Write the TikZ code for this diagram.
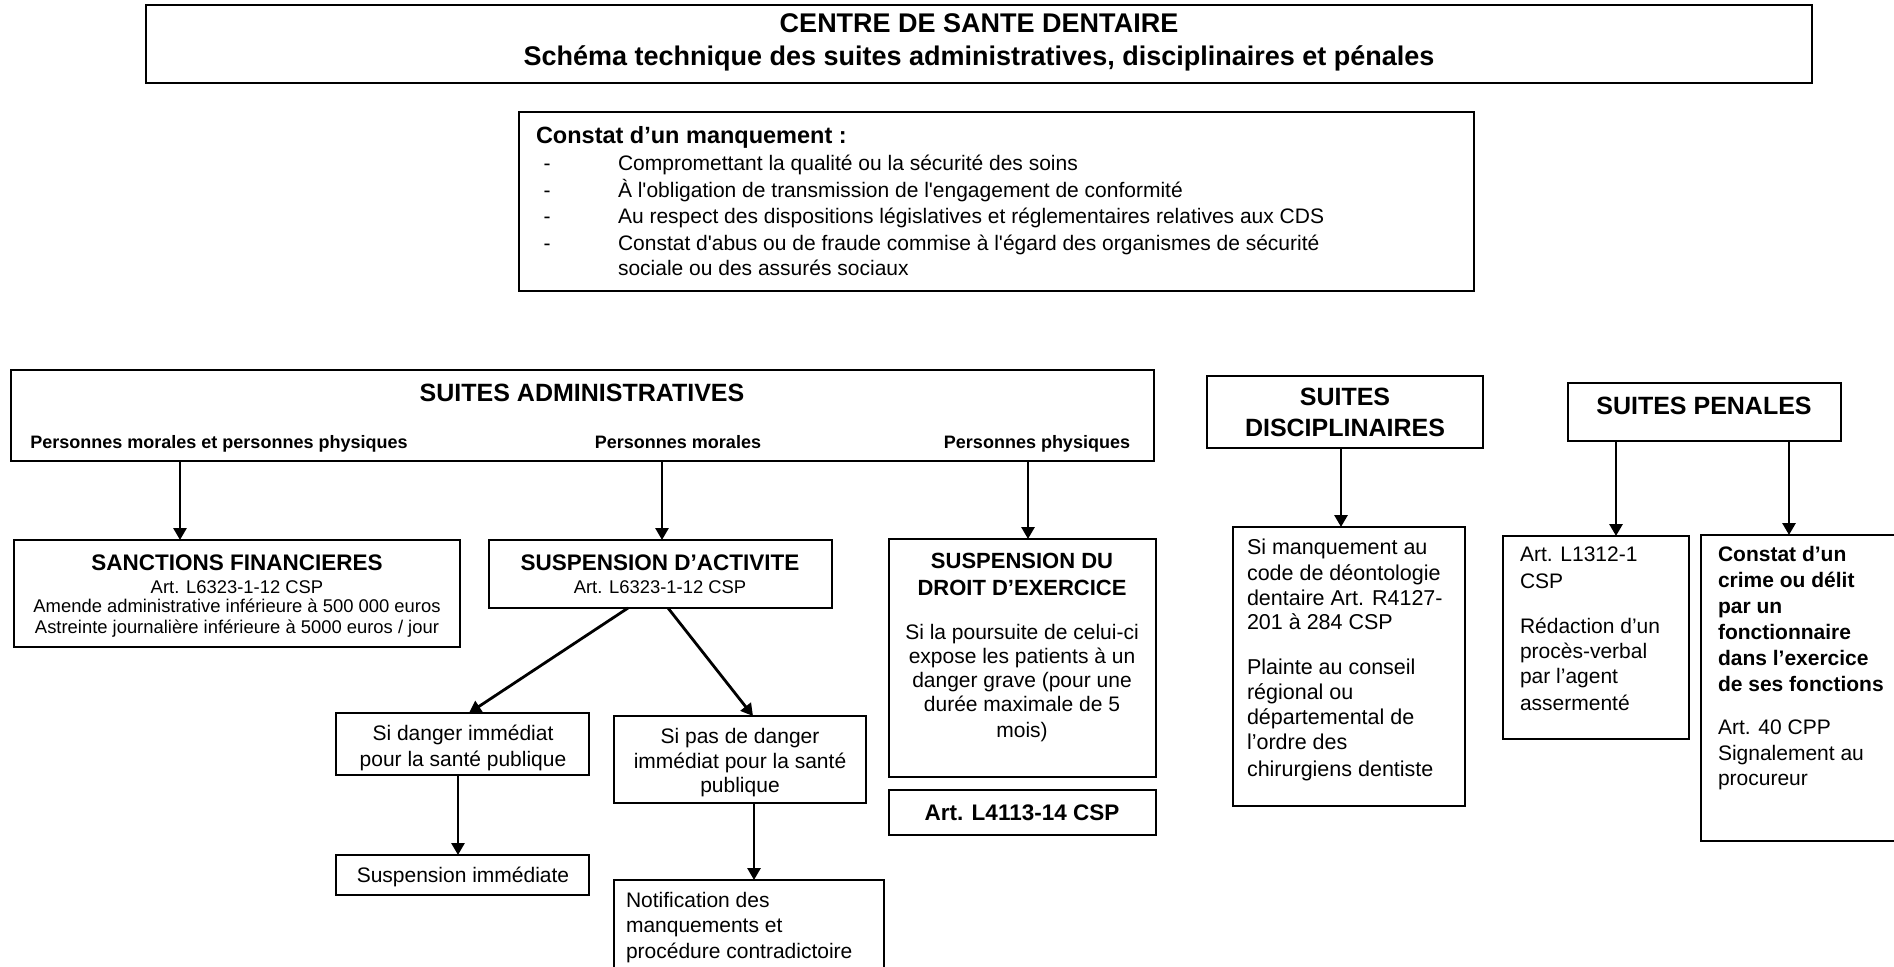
\documentclass[tikz,border=0pt]{standalone}
\usepackage{fontspec}
\setmainfont{Liberation Sans}[Ligatures=TeXOff]
\usetikzlibrary{arrows.meta}
\newcounter{tl}
\newcommand\fz[1]{\fontsize{#1}{#1}\selectfont}
\newcommand\tC[4]{\stepcounter{tl}\node[txt,anchor=base,font={#3}] (tl\arabic{tl}) at (#1,#2) {#4};}
\newcommand\tW[4]{\stepcounter{tl}\node[txt,anchor=base west,font={#3}] (tl\arabic{tl}) at (#1,#2) {#4};}
\newcommand\bx[5]{\node[box,anchor=north west,minimum width={(#4-#2)*1pt},minimum height={(#5-#3)*1pt}] (#1) at (#2,#3) {};}
\tikzset{
  txt/.style={inner sep=0pt,outer sep=0pt,text=black},
  box/.style={draw=black,line width=1.5pt,inner sep=0pt,outer sep=0pt,fill=none},
  arr/.style={line width=2.8pt,-{Triangle[length=12pt,width=13pt]}},
}
\begin{document}
\begin{tikzpicture}[x=1pt,y=-1pt]
\useasboundingbox (0,0) rectangle (1894,966);
\clip (0,0) rectangle (1894,966);
\fill[white] (0,0) rectangle (1894,966);
% boxes
\bx{title}{146}{5}{1812}{83}
\bx{constat}{519}{112}{1474}{291}
\bx{admin}{11}{370}{1154}{461}
\bx{sanc}{14}{540}{460}{647}
\bx{act}{489}{540}{832}{608}
\bx{danger}{336}{713}{589}{775}
\bx{pas}{614}{716}{866}{803}
\bx{imm}{336}{855}{589}{895}
\bx{notif}{614}{880}{884}{990}
\bx{droit}{889}{539}{1156}{777}
\bx{art}{889}{790}{1156}{835}
\bx{disc}{1207}{376}{1483}{448}
\bx{discb}{1233}{527}{1465}{806}
\bx{pen}{1568}{383}{1841}{441}
\bx{lcsp}{1503}{536}{1689}{739}
\bx{crime}{1701}{535}{1910}{841}
% arrow x positions
\coordinate (xa) at (180,0);
\coordinate (xb) at (662,0);
\coordinate (xc) at (1028,0);
\coordinate (xd1) at (628,0);
\coordinate (xd2) at (469,0);
\coordinate (xe1) at (668,0);
\coordinate (xe2) at (753,0);
\coordinate (xf) at (458,0);
\coordinate (xg) at (754,0);
\coordinate (xh) at (1341,0);
\coordinate (xi) at (1616,0);
\coordinate (xj) at (1789,0);
\draw[arr] (admin.south -| xa) -- (sanc.north -| xa);
\draw[arr] (admin.south -| xb) -- (act.north -| xb);
\draw[arr] (admin.south -| xc) -- (droit.north -| xc);
\draw[arr] (act.south -| xd1) -- (danger.north -| xd2);
\draw[arr] (act.south -| xe1) -- (pas.north -| xe2);
\draw[arr] (danger.south -| xf) -- (imm.north -| xf);
\draw[arr] (pas.south -| xg) -- (notif.north -| xg);
\draw[arr] (disc.south -| xh) -- (discb.north -| xh);
\draw[arr] (pen.south -| xi) -- (lcsp.north -| xi);
\draw[arr] (pen.south -| xj) -- (crime.north -| xj);
% title
\tC{979}{33}{\fz{27}\bfseries}{CENTRE DE SANTE DENTAIRE}
\tC{979}{66}{\fz{27}\bfseries}{Schéma technique des suites administratives, disciplinaires et pénales}
% constat
\tW{536}{143}{\fz{23.5}\bfseries}{Constat d’un manquement :}
\tC{547}{170}{\fz{21}}{-}
\tC{547}{197}{\fz{21}}{-}
\tC{547}{223}{\fz{21}}{-}
\tC{547}{250}{\fz{21}}{-}
\tW{618}{170}{\fz{21}}{Compromettant la qualité ou la sécurité des soins}
\tW{618}{197}{\fz{21}}{À l'obligation de transmission de l'engagement de conformité}
\tW{618}{223}{\fz{21}}{Au respect des dispositions législatives et réglementaires relatives aux CDS}
\tW{618}{250}{\fz{21}}{Constat d'abus ou de fraude commise à l'égard des organismes de sécurité}
\tW{618}{275}{\fz{21}}{sociale ou des assurés sociaux}
% admin
\tC{582}{401}{\fz{25}\bfseries}{SUITES ADMINISTRATIVES}
\tC{219}{448}{\fz{18}\bfseries}{Personnes morales et personnes physiques}
\tC{678}{448}{\fz{18}\bfseries}{Personnes morales}
\tC{1037}{448}{\fz{18}\bfseries}{Personnes physiques}
% sanctions
\tC{237}{570}{\fz{22.5}\bfseries}{SANCTIONS FINANCIERES}
\tC{237}{593}{\fz{18.4}}{Art. L6323-1-12 CSP}
\tC{237}{612}{\fz{18.4}}{Amende administrative inférieure à 500 000 euros}
\tC{237}{633}{\fz{18.4}}{Astreinte journalière inférieure à 5000 euros / jour}
% activite
\tC{660}{570}{\fz{22.5}\bfseries}{SUSPENSION D’ACTIVITE}
\tC{660}{593}{\fz{18.4}}{Art. L6323-1-12 CSP}
\tC{463}{740}{\fz{21}}{Si danger immédiat}
\tC{463}{766}{\fz{21}}{pour la santé publique}
\tC{740}{743}{\fz{21}}{Si pas de danger}
\tC{740}{768}{\fz{21}}{immédiat pour la santé}
\tC{740}{792}{\fz{21}}{publique}
\tC{463}{882}{\fz{21}}{Suspension immédiate}
\tW{626}{907}{\fz{21}}{Notification des}
\tW{626}{932}{\fz{21}}{manquements et}
\tW{626}{958}{\fz{21}}{procédure contradictoire}
% droit
\tC{1022}{568}{\fz{22}\bfseries}{SUSPENSION DU}
\tC{1022}{595}{\fz{22}\bfseries}{DROIT D’EXERCICE}
\tC{1022}{639}{\fz{21}}{Si la poursuite de celui-ci}
\tC{1022}{663}{\fz{21}}{expose les patients à un}
\tC{1022}{687}{\fz{21}}{danger grave (pour une}
\tC{1022}{711}{\fz{21}}{durée maximale de 5}
\tC{1022}{737}{\fz{21}}{mois)}
\tC{1022}{820}{\fz{22.5}\bfseries}{Art. L4113-14 CSP}
% disciplinaires
\tC{1345}{405}{\fz{25}\bfseries}{SUITES}
\tC{1345}{436}{\fz{25}\bfseries}{DISCIPLINAIRES}
\tW{1247}{554}{\fz{21.5}}{Si manquement au}
\tW{1247}{580}{\fz{21.5}}{code de déontologie}
\tW{1247}{605}{\fz{21.5}}{dentaire Art. R4127-}
\tW{1247}{629}{\fz{21.5}}{201 à 284 CSP}
\tW{1247}{674}{\fz{21.5}}{Plainte au conseil}
\tW{1247}{699}{\fz{21.5}}{régional ou}
\tW{1247}{724}{\fz{21.5}}{départemental de}
\tW{1247}{749}{\fz{21.5}}{l’ordre des}
\tW{1247}{776}{\fz{21.5}}{chirurgiens dentiste}
% penales
\tC{1704}{414}{\fz{25}\bfseries}{SUITES PENALES}
\tW{1520}{561}{\fz{21}}{Art. L1312-1}
\tW{1520}{588}{\fz{21}}{CSP}
\tW{1520}{633}{\fz{21}}{Rédaction d’un}
\tW{1520}{658}{\fz{21}}{procès-verbal}
\tW{1520}{683}{\fz{21}}{par l’agent}
\tW{1520}{710}{\fz{21}}{assermenté}
\tW{1718}{561}{\fz{21}\bfseries}{Constat d’un}
\tW{1718}{587}{\fz{21}\bfseries}{crime ou délit}
\tW{1718}{613}{\fz{21}\bfseries}{par un}
\tW{1718}{639}{\fz{21}\bfseries}{fonctionnaire}
\tW{1718}{665}{\fz{21}\bfseries}{dans l’exercice}
\tW{1718}{691}{\fz{21}\bfseries}{de ses fonctions}
\tW{1718}{734}{\fz{21}}{Art. 40 CPP}
\tW{1718}{760}{\fz{21}}{Signalement au}
\tW{1718}{785}{\fz{21}}{procureur}
\end{tikzpicture}
\end{document}
